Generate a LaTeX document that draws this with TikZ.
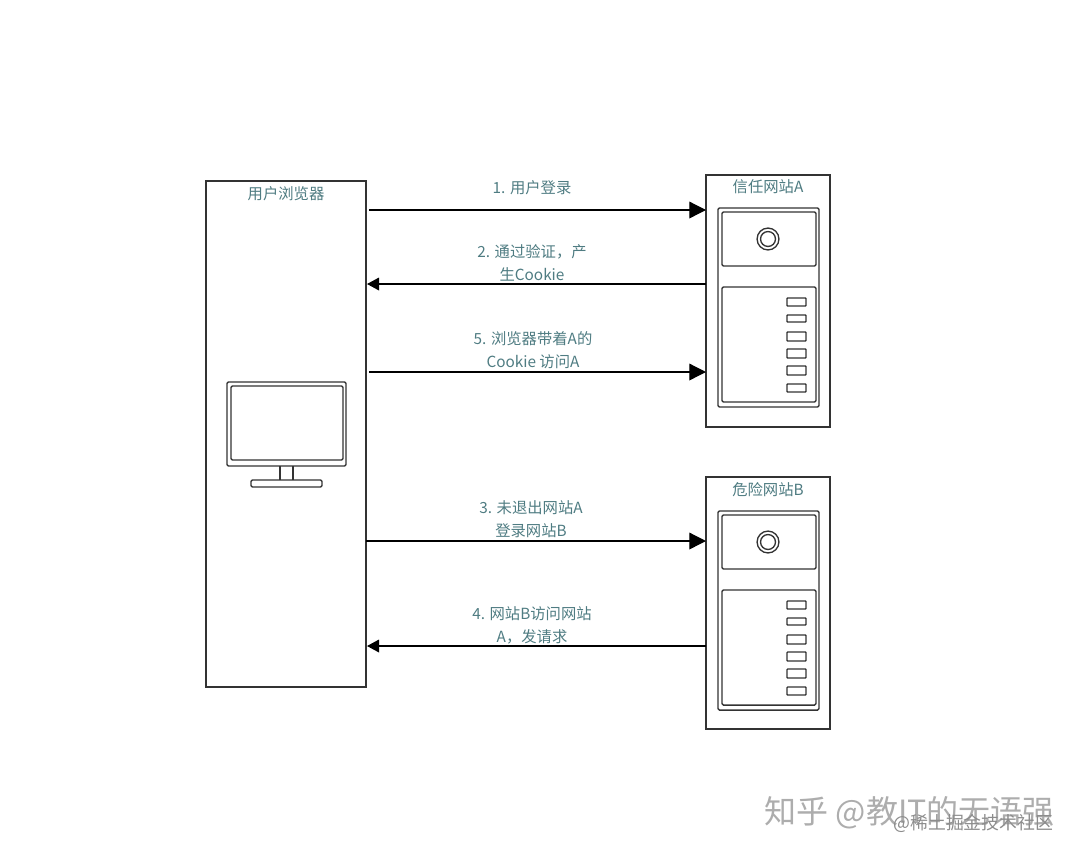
\documentclass[tikz,border=0pt]{standalone}
\usepackage{fontspec}
\setmainfont{Noto Sans CJK SC}
\usepackage{xcolor}
\usetikzlibrary{arrows.meta, positioning, calc}
\definecolor{labelteal}{HTML}{4F7C82}
\definecolor{linedark}{HTML}{333333}
\tikzstyle{panel} = [rectangle, draw=linedark, line width=0.95pt, fill=white, inner sep=0pt, outer sep=0pt]
\tikzstyle{browser} = [panel, minimum width=120pt, minimum height=379.5pt]
\tikzstyle{site} = [panel, minimum width=93pt, minimum height=189pt]
\tikzstyle{title} = [text=labelteal, font=\fontsize{11.5}{13}\selectfont]
\tikzstyle{msg} = [text=labelteal, align=center, font=\fontsize{11.5}{17.25}\selectfont]
\tikzstyle{arrow} = [line width=0.95pt, draw=black, -{Triangle[length=12.5pt,width=12.5pt]}]
\tikzstyle{backarrow} = [line width=0.95pt, draw=black, -{Triangle[length=9pt,width=9.5pt]}]
\tikzstyle{icon} = [draw=linedark, line width=1.1pt, rounded corners=1pt]
\tikzstyle{slot} = [draw=linedark, line width=1pt, rounded corners=0.5pt]
% server drawn with its top at the origin of site A
\newcommand{\serverunit}[1]{
  \begin{scope}[shift={(0,#1)}]
    \draw[icon] (718,208) rectangle (819,407);
    \draw[icon] (722,212) rectangle (816,266);
    \draw[icon] (722,287) rectangle (816,402);
    \draw[draw=linedark, line width=1pt] (768,239) circle (8.2pt);
    \draw[draw=linedark, line width=1pt] (768,239) circle (5.6pt);
    \draw[slot] (787,298) rectangle (806,306);
    \draw[slot] (787,315) rectangle (806,322);
    \draw[slot] (787,332) rectangle (806,341);
    \draw[slot] (787,349) rectangle (806,358);
    \draw[slot] (787,366) rectangle (806,375);
    \draw[slot] (787,384) rectangle (806,392);
  \end{scope}
}
\begin{document}
\begin{tikzpicture}[x=0.75pt, y=-0.75pt]
\useasboundingbox (0,0) rectangle (1080,858);

% Browser
\node[browser] (browser) at (286,434) {};
\node[title] (browsertitle) at (286,194) {用户浏览器};

% Monitor
\draw[icon] (227,382) rectangle (346,466);
\draw[icon] (231,386) rectangle (343,460);
\draw[draw=linedark, line width=1pt] (280,466) -- (280,480) (293,466) -- (293,480);
\draw[icon] (251,480) rectangle (322,487);

% Site A
\node[site] (sitea) at (768,301) {};
\node[title] (siteatitle) at (768,187) {信任网站A};
\serverunit{0}

% Site B
\node[site] (siteb) at (768,603) {};
\node[title] (sitebtitle) at (768,490) {危险网站B};
\serverunit{303}

% Free ends of the arrows
\coordinate (login) at (369,210);
\coordinate (cookie) at (367,284);
\coordinate (visit) at (369,372);
\coordinate (leave) at (366,541);
\coordinate (request) at (367,646);

% Connections
\draw[arrow] (login) -- (sitea.west |- login);
\draw[backarrow] (sitea.west |- cookie) -- (cookie);
\draw[arrow] (visit) -- (sitea.west |- visit);
\draw[arrow] (leave) -- (siteb.west |- leave);
\draw[backarrow] (siteb.west |- request) -- (request);

% Labels
\node[msg] (loginlabel) at (532,188) {1. 用户登录};
\node[msg] (cookielabel) at (532,262.5) {2. 通过验证，产\\生Cookie};
\node[msg] (visitlabel) at (533,350.5) {5. 浏览器带着A的\\Cookie 访问A};
\node[msg] (leavelabel) at (531,519.5) {3. 未退出网站A\\登录网站B};
\node[msg] (requestlabel) at (532,625) {4. 网站B访问网站\\A，发请求};

% Watermarks
\node[text=black!32, font=\fontsize{24}{27}\selectfont, anchor=west] (zhihu) at (760,813) {知乎 @教IT的无语强};
\node[text=black!45, font=\fontsize{13.4}{16}\selectfont, anchor=east] (juejin) at (1058,823) {@稀土掘金技术社区};
\end{tikzpicture}
\end{document}
